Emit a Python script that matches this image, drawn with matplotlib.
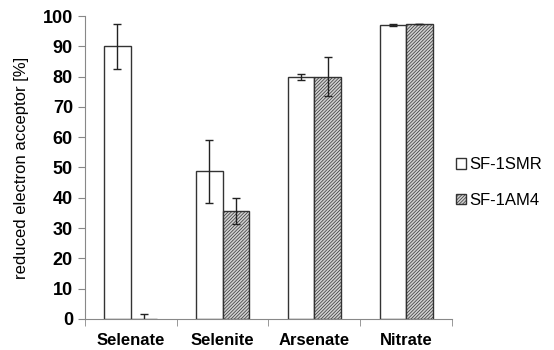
import matplotlib; matplotlib.use("Agg")
import matplotlib.pyplot as plt
import numpy as np
plt.rcParams.update({"font.family":["Liberation Sans","DejaVu Sans"],"hatch.linewidth":0.5,"hatch.color":"#7a7a7a"})

categories=["Selenate","Selenite","Arsenate","Nitrate"]
smr=[90,48.7,80,97]
smr_err=[7.5,10.5,1.0,0.4]
am4=[0,35.7,80,97.5]
am4_err=[1.5,4.3,6.5,0]

fig=plt.figure(figsize=(5.54,3.5),dpi=100)
ax=fig.add_axes([0.153,0.089,0.663,0.865])
x=np.arange(len(categories)); w=0.29
ax.bar(x-w/2,smr,w,color="white",edgecolor="#333333",lw=1,label="SF-1SMR",
       yerr=smr_err,error_kw=dict(ecolor="#222222",elinewidth=1,capsize=3,capthick=1))
ax.bar(x+w/2,am4,w,color="#d0d0d0",edgecolor="#333333",lw=1,hatch="//////////",label="SF-1AM4",
       yerr=am4_err,error_kw=dict(ecolor="#222222",elinewidth=1,capsize=3,capthick=1))
ax.set_xlim(-0.5,3.5); ax.set_ylim(0,100)
ax.set_yticks(range(0,101,10))
ax.set_xticks(x); ax.set_xticklabels(categories,fontweight="bold",fontsize=12)
ax.set_xticks(np.arange(-0.5,4,1),minor=True)
ax.tick_params(axis="x",which="major",length=0,pad=10)
ax.tick_params(axis="x",which="minor",length=5,color="#888888")
ax.tick_params(axis="y",labelsize=13,length=5,color="#888888")
for t in ax.get_yticklabels(): t.set_fontweight("bold")
for s in ["top","right"]: ax.spines[s].set_visible(False)
for s in ["left","bottom"]: ax.spines[s].set_color("#888888")
ax.set_ylabel("reduced electron acceptor [%]",fontsize=12,labelpad=10)
ax.legend(loc="center left",bbox_to_anchor=(1.01,0.45),frameon=False,fontsize=12,
          borderaxespad=0,borderpad=0,
          handlelength=0.6,handleheight=0.6,handletextpad=0.2,labelspacing=1.25)
fig.savefig("out.png",dpi=100)
